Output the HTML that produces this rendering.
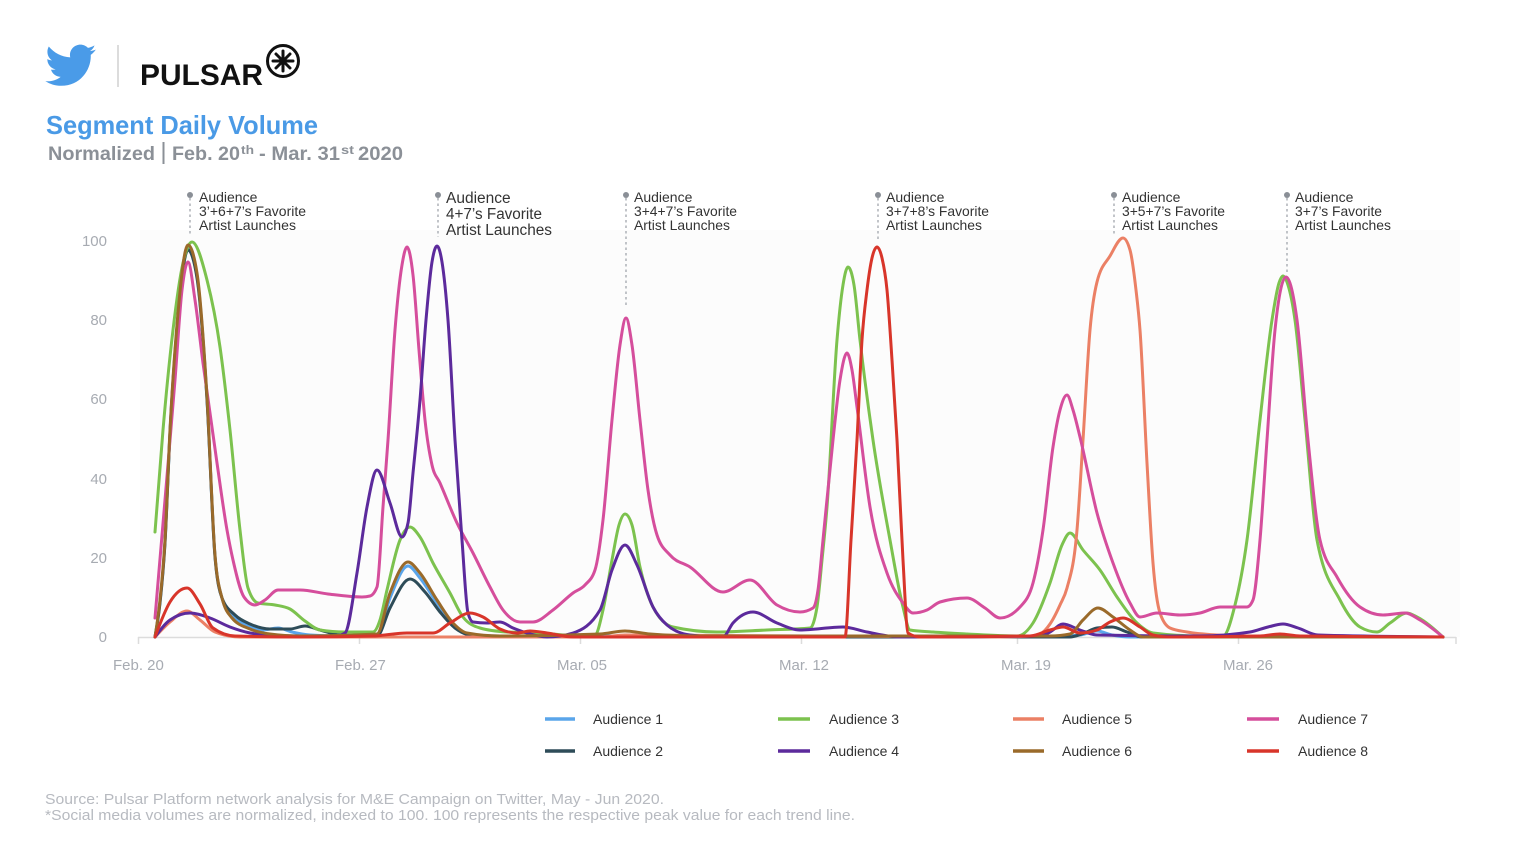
<!DOCTYPE html>
<html>
<head>
<meta charset="utf-8">
<style>
  html,body{margin:0;padding:0;background:#ffffff;}
  svg{display:block;}
  text{font-family:"Liberation Sans",Arial,sans-serif;}
</style>
</head>
<body>
<svg width="1536" height="864" viewBox="0 0 1536 864">
  <rect x="0" y="0" width="1536" height="864" fill="#ffffff"/>

  <!-- Twitter bird -->
  <g transform="translate(43.2,38.5) scale(2.23)">
    <path fill="#4a9be8" d="M23.643 4.937c-.835.37-1.732.62-2.675.733.962-.576 1.7-1.49 2.048-2.578-.9.534-1.897.922-2.958 1.13-.85-.904-2.06-1.47-3.4-1.470-2.572 0-4.658 2.086-4.658 4.66 0 .364.042.718.12 1.06-3.873-.195-7.304-2.05-9.602-4.868-.4.69-.63 1.49-.63 2.342 0 1.616.823 3.043 2.072 3.878-.764-.025-1.482-.234-2.11-.583v.06c0 2.257 1.605 4.14 3.737 4.568-.392.106-.803.162-1.227.162-.3 0-.593-.028-.877-.082.593 1.85 2.313 3.198 4.352 3.234-1.595 1.25-3.604 1.995-5.786 1.995-.376 0-.747-.022-1.112-.065 2.062 1.323 4.51 2.093 7.14 2.093 8.57 0 13.255-7.098 13.255-13.254 0-.2-.005-.402-.014-.602.91-.658 1.7-1.477 2.323-2.41z"/>
  </g>
  <line x1="118" y1="45" x2="118" y2="87" stroke="#d0d0d0" stroke-width="1.5"/>
  <text x="140" y="85" font-size="30" font-weight="bold" fill="#111" textLength="123" lengthAdjust="spacingAndGlyphs">PULSAR</text>
  <!-- circled asterisk -->
  <g stroke="#111" stroke-width="3" fill="none" stroke-linecap="round">
    <circle cx="283" cy="61" r="15.5"/>
    <line x1="283" y1="51" x2="283" y2="71"/>
    <line x1="273" y1="61" x2="293" y2="61"/>
    <line x1="276" y1="54" x2="290" y2="68"/>
    <line x1="290" y1="54" x2="276" y2="68"/>
  </g>

  <!-- Title -->
  <text x="46" y="134" font-size="26" font-weight="bold" fill="#4a9ae6" textLength="272" lengthAdjust="spacingAndGlyphs">Segment Daily Volume</text>
  <g fill="#8b9097" font-weight="bold">
    <text x="48" y="160" font-size="19.5" textLength="107" lengthAdjust="spacingAndGlyphs">Normalized</text>
    <text x="172" y="160" font-size="19.5" textLength="68" lengthAdjust="spacingAndGlyphs">Feb. 20</text>
    <text x="241" y="154" font-size="12" textLength="13" lengthAdjust="spacingAndGlyphs">th</text>
    <text x="259" y="160" font-size="19.5" textLength="81" lengthAdjust="spacingAndGlyphs">- Mar. 31</text>
    <text x="341" y="154" font-size="12" textLength="13" lengthAdjust="spacingAndGlyphs">st</text>
    <text x="358" y="160" font-size="19.5" textLength="45" lengthAdjust="spacingAndGlyphs">2020</text>
  </g>
  <line x1="163.5" y1="142" x2="163.5" y2="164" stroke="#8b9097" stroke-width="2"/>

  <!-- plot background -->
  <rect x="140" y="230" width="1320" height="407" fill="#fcfcfc"/>

  <!-- Y axis labels -->
  <g font-size="15" fill="#a7abb2" text-anchor="end">
    <text x="107" y="246">100</text>
    <text x="107" y="325">80</text>
    <text x="107" y="404">60</text>
    <text x="107" y="484">40</text>
    <text x="107" y="563">20</text>
    <text x="107" y="642">0</text>
  </g>

  <!-- X axis -->
  <line x1="138" y1="637.5" x2="1456" y2="637.5" stroke="#dcdcdc" stroke-width="1.5"/>
  <g stroke="#dcdcdc" stroke-width="1.5">
    <line x1="138.5" y1="637" x2="138.5" y2="644"/>
    <line x1="359.5" y1="637" x2="359.5" y2="644"/>
    <line x1="580.5" y1="637" x2="580.5" y2="644"/>
    <line x1="801.5" y1="637" x2="801.5" y2="644"/>
    <line x1="1017.5" y1="637" x2="1017.5" y2="644"/>
    <line x1="1238.5" y1="637" x2="1238.5" y2="644"/>
    <line x1="1456" y1="637" x2="1456" y2="644"/>
  </g>
  <g font-size="15" fill="#a7abb2">
    <text x="113" y="670">Feb. 20</text>
    <text x="335" y="670">Feb. 27</text>
    <text x="557" y="670">Mar. 05</text>
    <text x="779" y="670">Mar. 12</text>
    <text x="1001" y="670">Mar. 19</text>
    <text x="1223" y="670">Mar. 26</text>
  </g>

  <!-- Annotations -->
  <g stroke="#9a9ea5" stroke-width="1.2" stroke-dasharray="2.5,3">
    <line x1="190" y1="198" x2="190" y2="234"/>
    <line x1="438" y1="198" x2="438" y2="237"/>
    <line x1="626" y1="198" x2="626" y2="308"/>
    <line x1="878" y1="198" x2="878" y2="240"/>
    <line x1="1114" y1="198" x2="1114" y2="235"/>
    <line x1="1287" y1="198" x2="1287" y2="272"/>
  </g>
  <g fill="#8a8f96">
    <circle cx="190" cy="195" r="3"/>
    <circle cx="438" cy="195" r="3"/>
    <circle cx="626" cy="195" r="3"/>
    <circle cx="878" cy="195" r="3"/>
    <circle cx="1114" cy="195" r="3"/>
    <circle cx="1287" cy="195" r="3"/>
  </g>
  <g font-size="14" fill="#333">
    <text x="199" y="202">Audience</text>
    <text x="199" y="216" textLength="107" lengthAdjust="spacingAndGlyphs">3’+6+7’s Favorite</text>
    <text x="199" y="230" textLength="97" lengthAdjust="spacingAndGlyphs">Artist Launches</text>

    <text x="446" y="203" font-size="15.5">Audience</text>
    <text x="446" y="219" font-size="15.5" textLength="96" lengthAdjust="spacingAndGlyphs">4+7’s Favorite</text>
    <text x="446" y="235" font-size="15.5" textLength="106" lengthAdjust="spacingAndGlyphs">Artist Launches</text>

    <text x="634" y="202">Audience</text>
    <text x="634" y="216" textLength="103" lengthAdjust="spacingAndGlyphs">3+4+7’s Favorite</text>
    <text x="634" y="230" textLength="96" lengthAdjust="spacingAndGlyphs">Artist Launches</text>

    <text x="886" y="202">Audience</text>
    <text x="886" y="216" textLength="103" lengthAdjust="spacingAndGlyphs">3+7+8’s Favorite</text>
    <text x="886" y="230" textLength="96" lengthAdjust="spacingAndGlyphs">Artist Launches</text>

    <text x="1122" y="202">Audience</text>
    <text x="1122" y="216" textLength="103" lengthAdjust="spacingAndGlyphs">3+5+7’s Favorite</text>
    <text x="1122" y="230" textLength="96" lengthAdjust="spacingAndGlyphs">Artist Launches</text>

    <text x="1295" y="202">Audience</text>
    <text x="1295" y="216" textLength="87" lengthAdjust="spacingAndGlyphs">3+7’s Favorite</text>
    <text x="1295" y="230" textLength="96" lengthAdjust="spacingAndGlyphs">Artist Launches</text>
  </g>

  <!-- Series -->
  <g id="series" fill="none" stroke-width="3" stroke-linejoin="round" stroke-linecap="round">
    <polyline class="s" stroke="#5aa5ea" points="155,637 160,602 165,542 170,432 178,316 188,248 197,276 207,399 215,556 222,598 232,616 245,624 262,630 278,628 292,632 310,635 340,636 377,635 390,598 408,566 420,578 437,603 453,624 467,634 500,636 600,636 1060,636 1080,635 1097,631 1112,635 1130,637 1443,637"/>
    <polyline class="s" stroke="#2e4c58" points="155,637 160,603 165,543 170,433 178,317 188,250 197,278 207,400 215,557 222,598 235,615 250,624 270,629 290,629 305,626 320,630 340,635 377,636 390,608 410,579 425,592 440,612 455,628 470,635 500,637 1070,637 1082,634 1097,628 1112,627 1127,632 1142,637 1443,637"/>
    <polyline class="s" stroke="#7cc24e" points="155,532 163,430 173,330 183,263 192,242 207,280 220,347 230,430 240,530 248,588 258,603 275,605 290,609 305,621 320,630 345,632 373,632 380,620 387,590 400,540 410,527 420,537 433,563 450,593 463,617 480,628 507,632 540,633 580,636 595,635 603,610 612,560 619,525 625,514 632,525 640,567 653,607 673,627 717,632 767,630 810,628 817,607 822,560 827,507 837,340 843,285 848,267 854,285 860,340 873,440 890,540 903,607 910,630 933,632 967,634 1017,636 1033,623 1050,583 1062,545 1070,533 1083,550 1100,570 1117,597 1137,623 1153,633 1200,636 1223,636 1235,605 1247,540 1260,420 1272,320 1279,283 1283,276 1288,285 1295,320 1305,420 1317,540 1340,600 1360,627 1377,632 1390,623 1407,613 1417,617 1443,637"/>
    <polyline class="s" stroke="#eb8065" points="155,637 170,622 187,611 200,620 215,632 240,637 600,637 625,635 1000,637 1030,636 1040,634 1050,624 1060,605 1067,588 1077,530 1083,440 1090,330 1097,282 1110,256 1123,238 1130,250 1136,290 1140,330 1147,463 1153,563 1160,613 1170,628 1187,632 1217,635 1250,636 1443,637"/>
    <polyline class="s" stroke="#d54e9c" points="155,618 165,500 175,380 182,290 188,262 195,300 203,363 217,463 227,530 233,560 244,597 255,605 265,600 278,590 300,590 328,594 362,597 370,596 377,587 383,507 388,440 395,330 402,265 407,247 413,275 419,350 425,420 432,465 440,483 457,523 473,553 490,587 503,610 520,622 533,622 553,610 573,593 585,585 595,570 603,520 612,420 620,345 626,318 632,345 640,420 648,490 657,535 670,555 690,567 723,592 750,580 777,605 800,612 813,608 818,590 823,540 833,440 840,380 847,353 852,370 857,407 870,507 887,573 903,603 913,613 927,610 940,602 967,598 985,608 1000,618 1020,607 1033,583 1043,530 1053,447 1060,410 1067,395 1073,410 1080,437 1097,513 1113,563 1130,603 1140,617 1157,613 1180,615 1200,613 1220,607 1247,607 1253,600 1260,540 1267,440 1275,330 1286,277 1297,320 1308,440 1320,540 1337,577 1360,607 1383,615 1405,613 1420,620 1443,637"/>
    <polyline class="s" stroke="#5c2a9c" points="155,637 170,620 190,613 210,618 230,627 250,633 270,635 300,636 335,636 345,633 357,573 367,507 377,470 390,503 402,537 408,523 413,473 420,400 426,320 432,262 437,246 442,262 448,320 455,440 462,540 468,613 473,622 487,623 500,622 513,628 527,633 547,637 573,633 600,610 612,570 625,545 637,565 653,607 667,625 690,635 723,637 733,623 753,612 777,623 800,630 843,627 867,632 900,637 1040,636 1050,632 1063,624 1080,630 1097,635 1200,636 1250,632 1268,627 1283,624 1298,628 1318,635 1443,637"/>
    <polyline class="s" stroke="#9a6a2a" points="155,637 160,600 165,540 170,430 178,313 188,245 197,273 207,397 215,555 222,598 232,618 250,629 270,634 300,636 377,634 390,593 408,562 420,573 437,600 453,623 467,633 500,636 600,634 625,631 650,634 700,636 1050,636 1070,634 1083,620 1098,608 1113,617 1130,630 1143,637 1443,637"/>
    <polyline class="s" stroke="#d8352a" points="155,637 170,602 187,588 200,604 213,628 235,636 300,637 373,636 407,633 433,633 450,623 470,613 483,617 500,629 517,633 530,631 547,633 573,637 845,637 851,540 857,440 862,340 867,290 872,258 877,247 882,258 887,290 892,360 897,440 903,560 908,633 920,637 1030,636 1050,630 1063,627 1080,633 1097,630 1110,622 1123,618 1140,627 1153,635 1170,637 1260,636 1280,634 1300,636 1443,637"/>
  </g>

  <!-- Legend -->
  <g stroke-width="3.5" stroke-linecap="butt">
    <line x1="545" y1="719" x2="575" y2="719" stroke="#5aa5ea"/>
    <line x1="545" y1="751" x2="575" y2="751" stroke="#2e4c58"/>
    <line x1="778" y1="719" x2="810" y2="719" stroke="#7cc24e"/>
    <line x1="778" y1="751" x2="810" y2="751" stroke="#5c2a9c"/>
    <line x1="1013" y1="719" x2="1044" y2="719" stroke="#eb8065"/>
    <line x1="1013" y1="751" x2="1044" y2="751" stroke="#9a6a2a"/>
    <line x1="1247" y1="719" x2="1279" y2="719" stroke="#d54e9c"/>
    <line x1="1247" y1="751" x2="1279" y2="751" stroke="#d8352a"/>
  </g>
  <g font-size="14" fill="#333">
    <text x="593" y="724">Audience 1</text>
    <text x="593" y="756">Audience 2</text>
    <text x="829" y="724">Audience 3</text>
    <text x="829" y="756">Audience 4</text>
    <text x="1062" y="724">Audience 5</text>
    <text x="1062" y="756">Audience 6</text>
    <text x="1298" y="724">Audience 7</text>
    <text x="1298" y="756">Audience 8</text>
  </g>

  <!-- Footer -->
  <g font-size="15" fill="#b7bac0">
    <text x="45" y="804" textLength="619" lengthAdjust="spacingAndGlyphs">Source: Pulsar Platform network analysis for M&amp;E Campaign on Twitter, May - Jun 2020.</text>
    <text x="45" y="820" textLength="810" lengthAdjust="spacingAndGlyphs">*Social media volumes are normalized, indexed to 100. 100 represents the respective peak value for each trend line.</text>
  </g>
</svg>
<script>
(function(){
  try{
    function sign(v){return v<0?-1:1;}
    var g=document.getElementById('series');
    var pls=g.querySelectorAll('polyline.s');
    var out='';
    for(var k=0;k<pls.length;k++){
      var pl=pls[k];
      var P=pl.getAttribute('points').trim().split(/\s+/).map(function(p){return p.split(',').map(Number);});
      var n=P.length, t=new Array(n);
      for(var i=1;i<n-1;i++){
        var h0=P[i][0]-P[i-1][0], h1=P[i+1][0]-P[i][0];
        var s0=h0?(P[i][1]-P[i-1][1])/h0:0, s1=h1?(P[i+1][1]-P[i][1])/h1:0;
        var p=(s0*h1+s1*h0)/(h0+h1);
        var v=(sign(s0)+sign(s1))*Math.min(Math.abs(s0),Math.abs(s1),0.5*Math.abs(p));
        t[i]=isFinite(v)?v:0;
      }
      var ha=P[1][0]-P[0][0];
      t[0]=ha?(3*(P[1][1]-P[0][1])/ha-(t[1]||0))/2:0;
      var hb=P[n-1][0]-P[n-2][0];
      t[n-1]=hb?(3*(P[n-1][1]-P[n-2][1])/hb-(t[n-2]||0))/2:0;
      if(n===2){t[0]=t[1]=(P[1][1]-P[0][1])/(ha||1);}
      var d='M'+P[0][0]+','+P[0][1];
      for(var i=0;i<n-1;i++){
        var dx=(P[i+1][0]-P[i][0])/3;
        var c1y=Math.min(P[i][1]+dx*t[i],637.5), c2y=Math.min(P[i+1][1]-dx*t[i+1],637.5);
        d+=' C'+(P[i][0]+dx).toFixed(2)+','+c1y.toFixed(2)+' '+(P[i+1][0]-dx).toFixed(2)+','+c2y.toFixed(2)+' '+P[i+1][0]+','+P[i+1][1];
      }
      out+='<path d="'+d+'" stroke="'+pl.getAttribute('stroke')+'"/>';
    }
    g.innerHTML=out;
  }catch(e){}
})();
</script>
</body>
</html>
